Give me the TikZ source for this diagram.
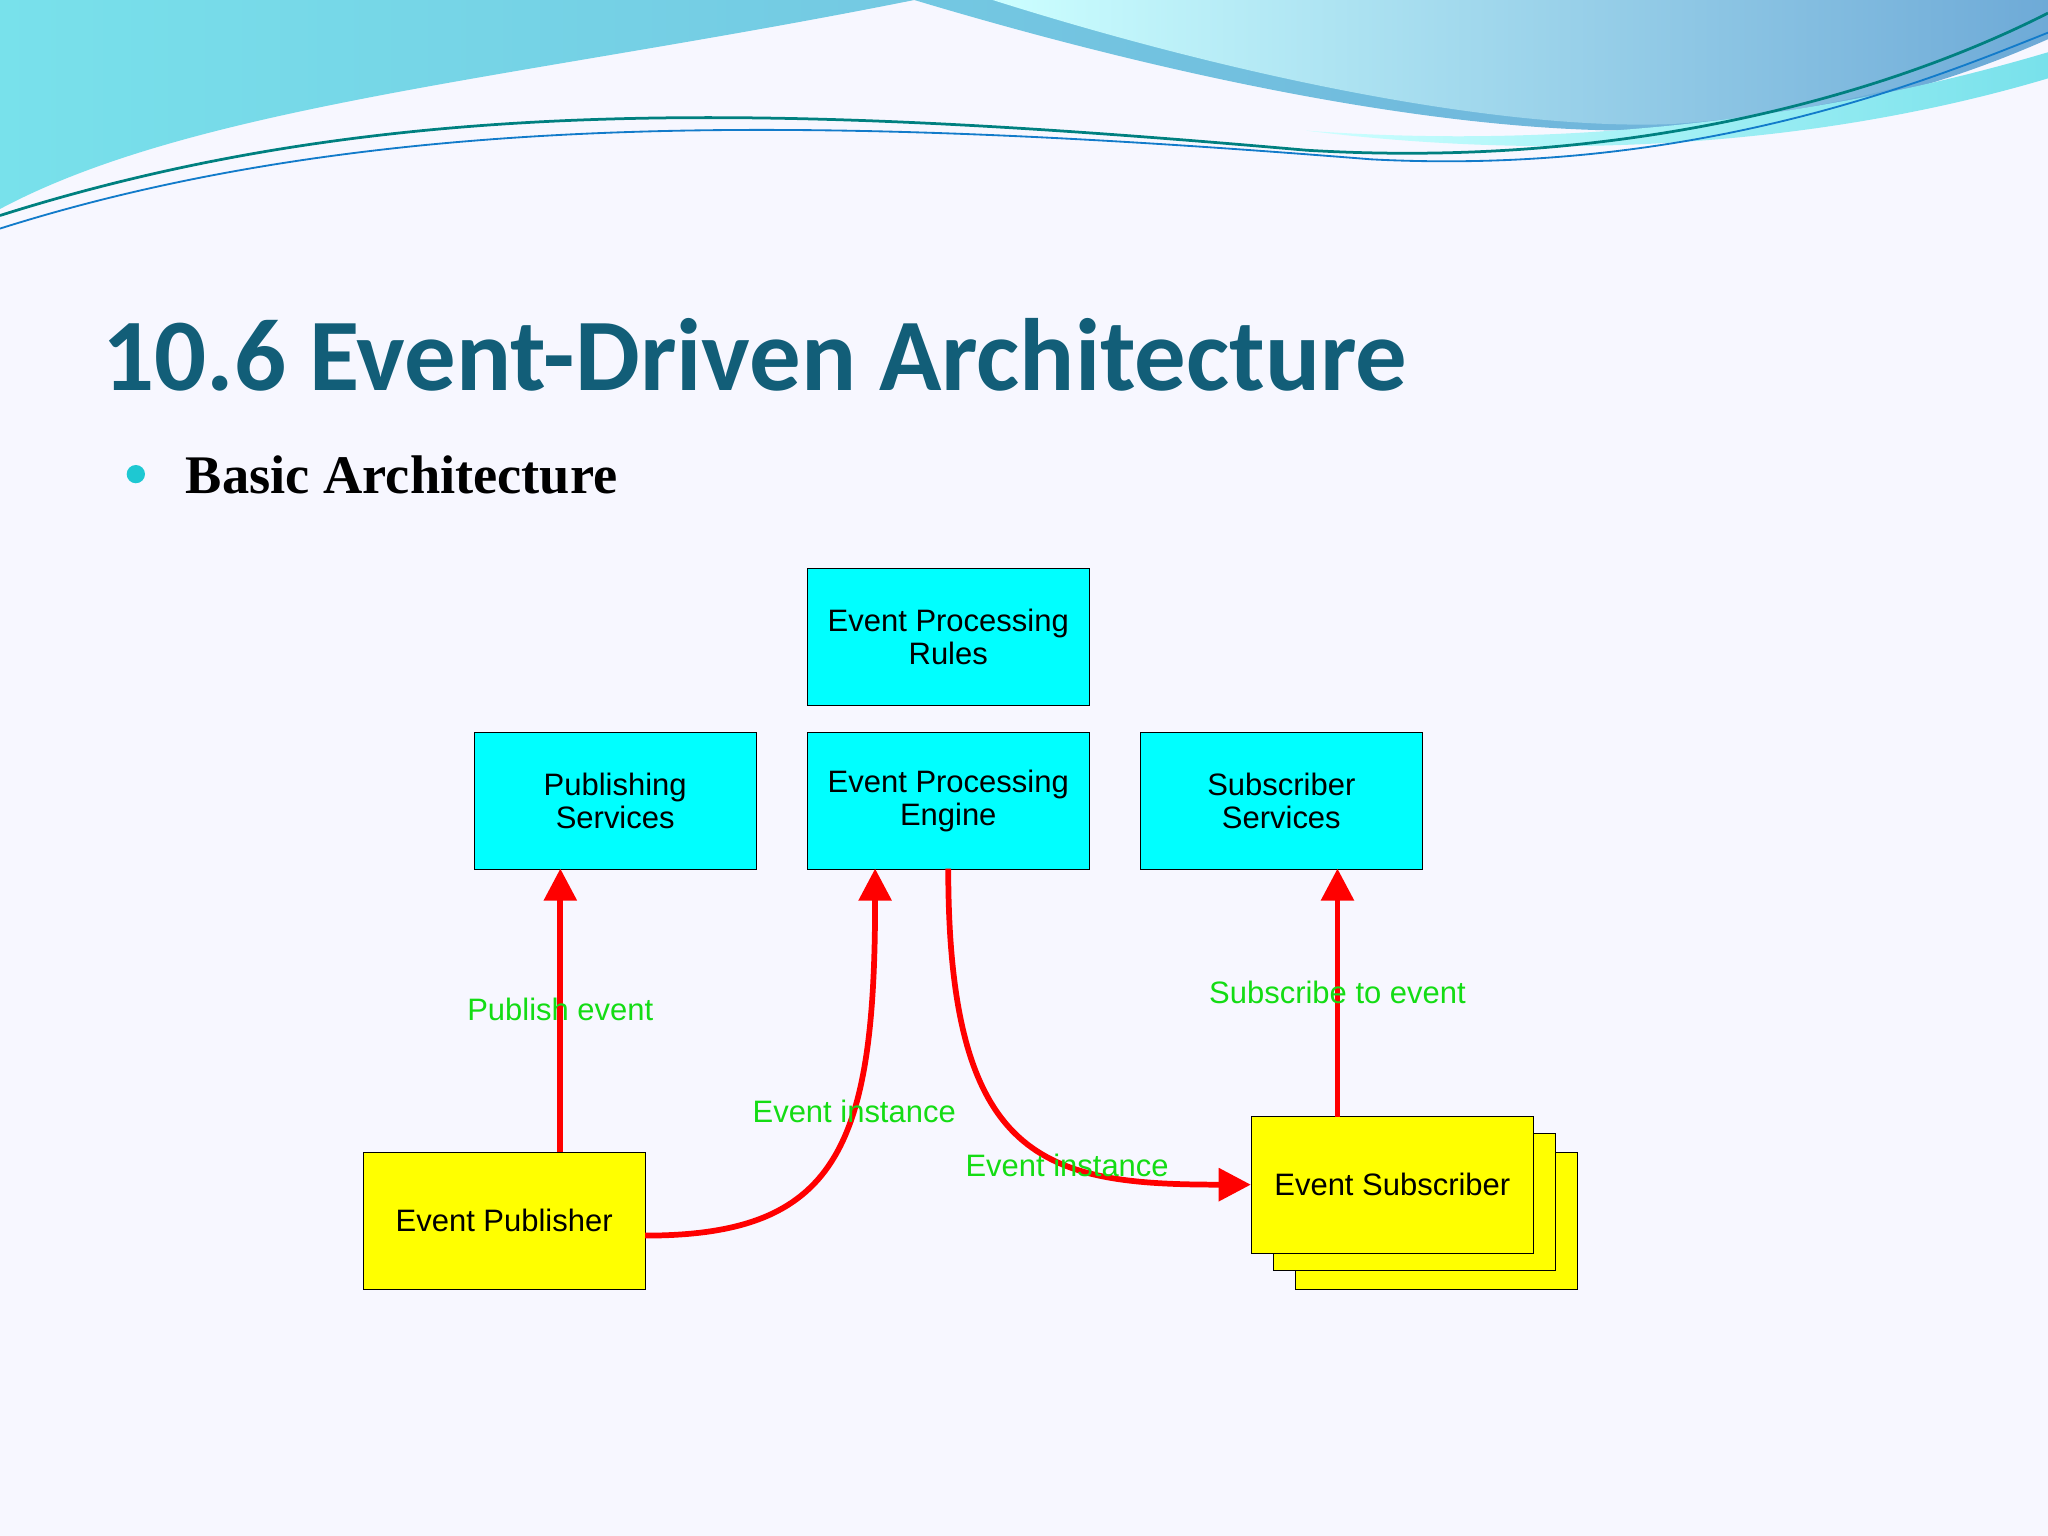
\documentclass[tikz,border=0pt]{standalone}
\usepackage{fontspec}
\setmainfont{Liberation Sans}
\newfontfamily\titlefont{Carlito}
\newfontfamily\serifb{Liberation Serif}
\usetikzlibrary{arrows.meta}
\definecolor{titleblue}{RGB}{18,94,120}
\definecolor{lblgreen}{RGB}{20,220,20}
\definecolor{bul}{RGB}{30,200,210}
\definecolor{boxcyan}{RGB}{0,255,255}
\definecolor{boxyellow}{RGB}{255,255,0}
\definecolor{wA}{RGB}{120,225,235}
\definecolor{wB}{RGB}{110,170,215}
\tikzset{
  cbox/.style={draw=black,fill=boxcyan,minimum width=216*0.02cm,minimum height=105*0.02cm,align=center,font=\fontsize{13.5}{14.5}\selectfont,inner sep=0pt},
  ybox/.style={cbox,fill=boxyellow},
  arr/.style={red,line width=2.5pt,-{Triangle[length=14pt,width=14pt]}},
  lbl/.style={text=lblgreen,font=\fontsize{13.5}{14}\selectfont,inner sep=0pt}
}
\begin{document}
\begin{tikzpicture}[x=0.02cm,y=-0.02cm]
\useasboundingbox (0,0) rectangle (1568,1176);
\fill[white!97!blue] (0,0) rectangle (1568,1176);
% header waves
\shade[left color=wA,right color=wB] (0,0) -- (700,0) .. controls (900,60) and (1100,100) .. (1250,100) .. controls (1400,95) and (1500,60) .. (1568,30) -- (1568,0) -- (700,0) -- (0,0) -- (0,160) .. controls (150,80) and (400,60) .. (700,0) -- cycle;
\shade[left color=cyan!20,right color=wB] (760,0) .. controls (950,60) and (1150,100) .. (1280,95) .. controls (1420,85) and (1520,50) .. (1568,20) -- (1568,0) -- cycle;
\shade[left color=cyan!20,right color=wA] (1000,100) .. controls (1200,115) and (1400,90) .. (1568,40) -- (1568,60) .. controls (1400,110) and (1200,125) .. (1000,100);
\draw[teal,line width=1.2pt] (0,165) .. controls (300,70) and (600,80) .. (1000,115) .. controls (1250,130) and (1450,70) .. (1568,10);
\draw[cyan!60!blue,line width=0.8pt] (0,175) .. controls (300,80) and (650,90) .. (1050,122) .. controls (1300,135) and (1480,60) .. (1568,25);
% title
\node[anchor=west,text=titleblue,font=\titlefont\bfseries\fontsize{44.8}{48}\selectfont,inner sep=0pt] (title) at (78,272) {10.6 Event-Driven Architecture};
\fill[bul] (104,363) circle (7);
\node[anchor=west,font=\serifb\bfseries\fontsize{23.7}{26}\selectfont,inner sep=0pt] (sub) at (142,364) {Basic Architecture};
% boxes
\node[cbox] (rules) at (726,487.5) {Event Processing\\Rules};
\node[cbox] (pub) at (471,613) {Publishing\\Services};
\node[cbox] (eng) at (726,613) {Event Processing\\Engine};
\node[cbox] (subs) at (981,613) {Subscriber\\Services};
\node[ybox] (ep) at (386,934.5) {Event Publisher};
\node[ybox] (es3) at (1100,934.5) {};
\node[ybox] (es2) at (1083,920) {};
\node[ybox] (es) at (1066,907) {Event Subscriber};
% arrows
\coordinate (pa) at (429,882);
\coordinate (pb) at (429,665);
\draw[arr] (pa) -- (pb);
\coordinate (ea) at (494,946);
\coordinate (eb) at (670,665);
\draw[arr] (ea) .. controls (640,946) and (670,880) .. (eb);
\coordinate (ga) at (726,665);
\draw[arr] (ga) .. controls (726,890) and (800,907) .. (es.west);
\coordinate (sa) at (1024,855);
\coordinate (sb) at (1024,665);
\draw[arr] (sa) -- (sb);
% labels
\node[lbl] (l1) at (429,773) {Publish event};
\node[lbl] (l2) at (654,851) {Event instance};
\node[lbl] (l3) at (817,892) {Event instance};
\node[lbl] (l4) at (1024,760) {Subscribe to event};
\end{tikzpicture}
\end{document}
